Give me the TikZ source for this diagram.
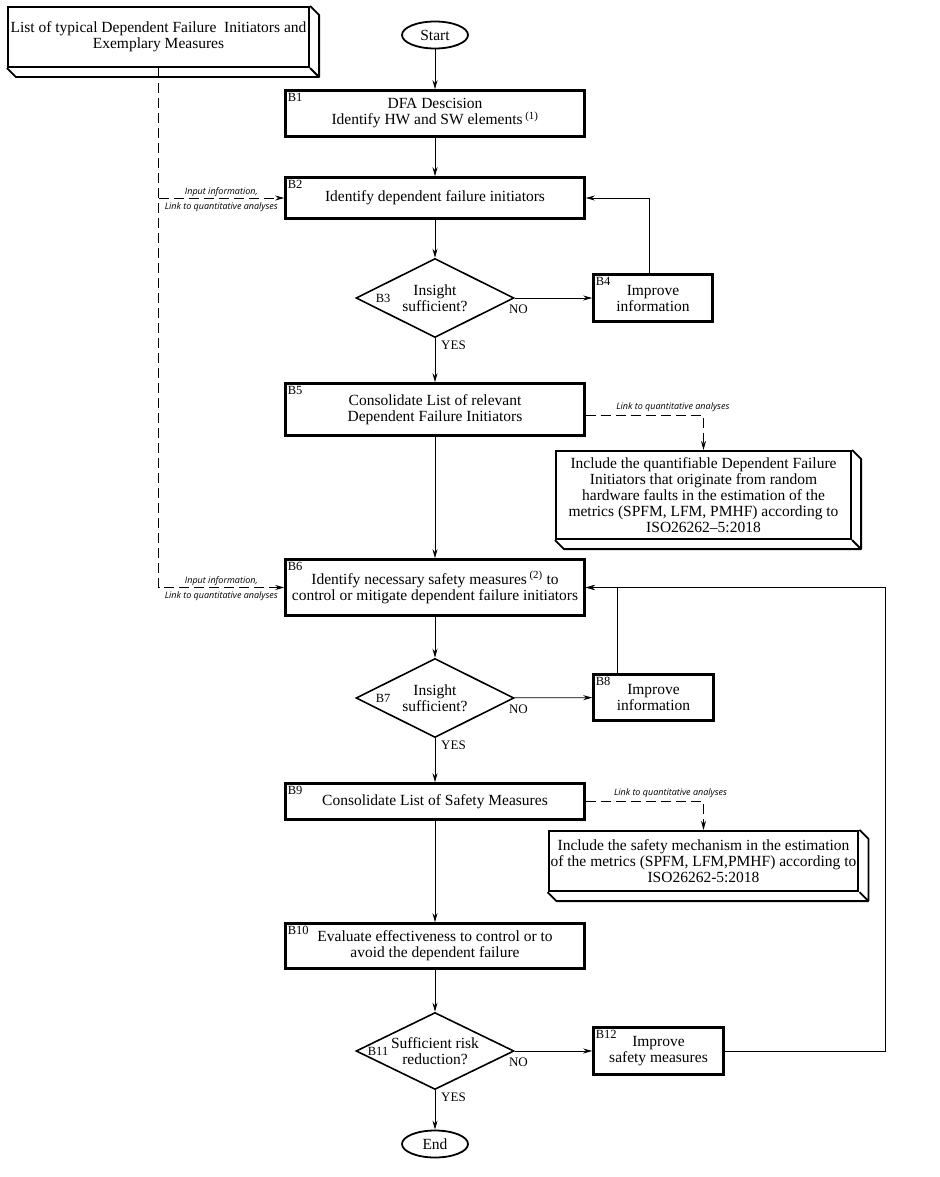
\documentclass[tikz,border=0pt]{standalone}
\usepackage{fontspec}
\setmainfont{Liberation Serif}
\newfontfamily\notefont{Open Sans}
\usetikzlibrary{arrows.meta}
\usetikzlibrary{positioning}
\usetikzlibrary{shapes.geometric}
\newcommand\boxfont{\fontsize{15.5}{16}\selectfont}
\tikzset{
  % connector with arrow head
  flow/.style = {
    draw = black,
    line width = 0.8pt,
    -{Stealth[length=9pt,width=5pt]}
  },
  % dashed information link
  link/.style = {
    flow,
    dash pattern = on 10pt off 5pt
  },
  % italic text on the links
  note/.style = {
    font = \notefont\itshape\fontsize{9}{10}\selectfont,
    inner sep = 1pt
  },
  % YES / NO
  answer/.style = {
    font = \fontsize{13}{14}\selectfont,
    inner sep = 1pt
  }
}
\tikzset {
  % process step
  step box/.style = {
    draw = black,
    line width = 2.6pt,
    minimum width = 299pt,
    align = center,
    inner sep = 2pt,
    font = \boxfont
  },
  % block number in the corner
  number/.style = {
    anchor = north west,
    inner sep = 3.5pt,
    font = \fontsize{12.5}{13}\selectfont
  },
  % decision
  decision/.style = {
    draw = black,
    diamond,
    aspect = 2,
    line width = 1.6pt,
    minimum width = 158pt,
    minimum height = 79pt,
    inner sep = 0pt,
    align = center,
    font = \boxfont
  },
  % start / end
  terminal/.style = {
    draw = black,
    ellipse,
    line width = 1.8pt,
    minimum width = 66pt,
    minimum height = 27pt,
    inner sep = 0pt,
    font = \boxfont
  },
  % extruded box for lists and metrics
  info box/.style = {
    draw = black,
    line width = 2.2pt,
    align = center,
    inner sep = 2pt,
    font = \boxfont
  }
}
\begin{document}
\begin{tikzpicture}[x=1pt, y=-1pt]
    \useasboundingbox (0,0) rectangle (939,1177);

    \node[info box, minimum width=301pt, minimum height=60pt] (dfilist) at (158.5,37)
      {List of typical Dependent Failure~ Initiators and\\Exemplary Measures};
    \node[terminal] (start) at (435,35) {Start};
    \node[step box, minimum height=46pt, label={[number]north west:B1}] (B1) at (435,113.5)
      {DFA Descision\\Identify HW and SW elements\,\textsuperscript{(1)}};
    \node[step box, minimum height=41pt, label={[number]north west:B2}] (B2) at (435,198)
      {Identify dependent failure initiators};
    \node[decision, label={[number, anchor=west, xshift=17pt]west:B3}] (B3) at (435,298)
      {Insight\\sufficient?};
    \node[step box, minimum width=119pt, minimum height=47pt, label={[number]north west:B4}] (B4) at (653,298)
      {Improve\\information};
    \node[step box, minimum height=52pt, label={[number]north west:B5}] (B5) at (435,409.5)
      {Consolidate List of relevant\\Dependent Failure Initiators};
    \node[info box, minimum width=295pt, minimum height=88pt] (dfiquant) at (703.5,495)
      {Include the quantifiable Dependent Failure\\Initiators that originate from random\\hardware faults in the estimation of the\\metrics (SPFM, LFM, PMHF) according to\\ISO26262--5:2018};
    \node[step box, minimum height=56pt, label={[number]north west:B6}] (B6) at (435,587.5)
      {Identify necessary safety measures\,\textsuperscript{(2)} to\\control or mitigate dependent failure initiators};
    \node[decision, label={[number, anchor=west, xshift=17pt]west:B7}] (B7) at (435,698)
      {Insight\\sufficient?};
    \node[step box, minimum width=120pt, minimum height=46pt, label={[number]north west:B8}] (B8) at (653.5,697.5)
      {Improve\\information};
    \node[step box, minimum height=36pt, label={[number]north west:B9}] (B9) at (435,801.5)
      {Consolidate List of Safety Measures};
    \node[info box, minimum width=295pt, minimum height=60pt] (smquant) at (703.5,861)
      {Include the safety mechanism in the estimation\\of the metrics (SPFM, LFM,PMHF) according to\\ISO26262-5:2018};
    \node[step box, minimum height=45pt, label={[number]north west:B10}] (B10) at (435,946)
      {Evaluate effectiveness to control or to\\avoid the dependent failure};
    \node[decision, minimum height=77pt, label={[number, anchor=west, xshift=9pt]west:B11}] (B11) at (435,1051)
      {Sufficient risk\\reduction?};
    \node[step box, minimum width=130pt, minimum height=47pt, label={[number]north west:B12}] (B12) at (658.5,1051)
      {Improve\\safety measures};
    \node[terminal] (end) at (435,1144) {End};

    % extruded faces
    \foreach \b in {dfilist, dfiquant, smquant}
      \draw[line width=1.8pt, line join=round]
        (\b.north east) -- ++(9,9) -- ([shift={(9,9)}]\b.south east)
        -- ([shift={(9,9)}]\b.south west) -- (\b.south west)
        (\b.south east) -- ++(9,9);

    % answers
    \node[answer, below right=1pt and 5pt of B3.south] (yes3) {YES};
    \node[answer, below right=6pt and -7pt of B3.east] (no3) {NO};
    \node[answer, below right=1pt and 5pt of B7.south] (yes7) {YES};
    \node[answer, below right=6pt and -7pt of B7.east] (no7) {NO};
    \node[answer, below right=1pt and 5pt of B11.south] (yes11) {YES};
    \node[answer, below right=6pt and -7pt of B11.east] (no11) {NO};

    \coordinate (tap) at (dfilist.south |- B2.west);
    \coordinate (loop) at (885,0);

    \draw[flow] (start) -- (B1);
    \draw[flow] (B1) -- (B2);
    \draw[flow] (B2) -- (B3);
    \draw[flow] (B3) -- (B5);
    \draw[flow] (B3) -- (B4);
    \draw[flow] ([xshift=-4pt]B4.north) |- (B2.east);
    \draw[flow] (B5) -- (B6);
    \draw[flow] (B6) -- (B7);
    \draw[flow] (B7) -- (B8);
    \draw[flow] ([xshift=-36pt]B8.north) |- (B6.east);
    \draw[flow] (B7) -- (B9);
    \draw[flow] (B9) -- (B10);
    \draw[flow] (B10) -- (B11);
    \draw[flow] (B11) -- (B12);
    \draw[flow] (B12.east) -- (B12.east -| loop) |- (B6.east);
    \draw[flow] (B11) -- (end);

    % information links
    \draw[link] (dfilist.south) |-
      node[note, pos=0.75, above] (in6) {Input information,}
      node[note, pos=0.75, below=3pt] (lk6) {Link to quantitative analyses} (B6.west);
    \draw[link] (tap) --
      node[note, above] (in2) {Input information,}
      node[note, below=3pt] (lk2) {Link to quantitative analyses} (B2.west);
    \draw[link] ([yshift=-6pt]B5.east) -|
      node[note, pos=0.37, above=2pt] (lk5) {Link to quantitative analyses} (dfiquant.north);
    \draw[link] (B9.east) -|
      node[note, pos=0.36, above=2pt] (lk9) {Link to quantitative analyses} (smquant.north);
\end{tikzpicture}
\end{document}
